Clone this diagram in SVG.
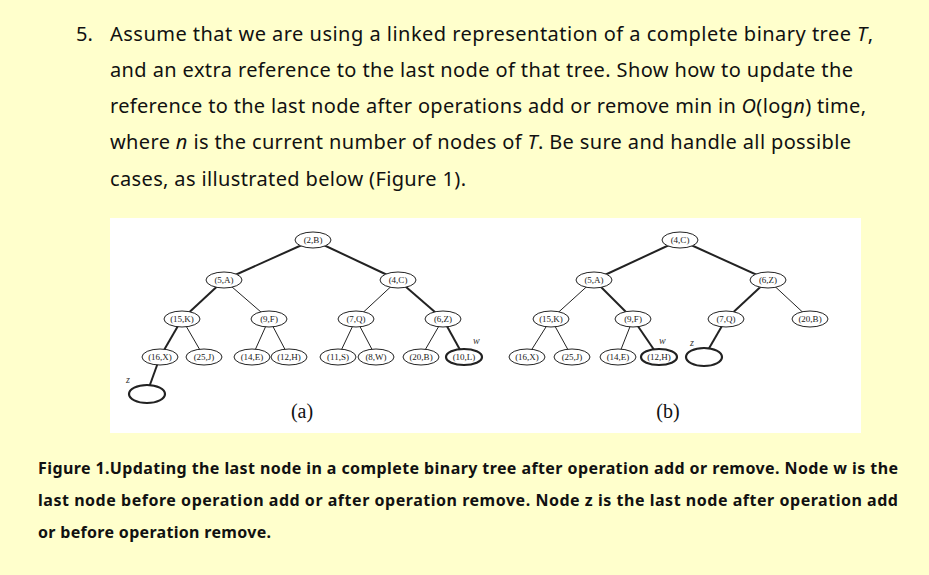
<svg xmlns="http://www.w3.org/2000/svg" width="929" height="575" viewBox="0 0 929 575">
<style>
.t{font-family:"Noto Sans","Noto Sans CJK KR",sans-serif;font-size:20px;fill:#111}
.c{font-family:"Noto Sans","Noto Sans CJK KR",sans-serif;font-size:16px;font-weight:bold;fill:#111}
.n ellipse{fill:#fff;stroke:#222;stroke-width:1}
.n text{font-family:"Liberation Serif",serif;font-size:9px;text-anchor:middle;fill:#222}
.b ellipse{stroke-width:2.2}
.e line{stroke:#222;stroke-width:1}
.e .k{stroke-width:2}
.l{font-family:"Liberation Serif",serif;font-style:italic;font-size:10px;fill:#333}
.p{font-family:"Liberation Serif",serif;font-size:20px;text-anchor:middle;fill:#111}
</style>
<rect width="929" height="575" fill="#ffffcc"/>
<text class="t" x="76" y="41">5.</text>
<text class="t" x="110" y="41" textLength="763" lengthAdjust="spacing">Assume that we are using a linked representation of a complete binary tree <tspan font-style="italic">T</tspan>,</text>
<text class="t" x="110" y="77" textLength="743" lengthAdjust="spacing">and an extra reference to the last node of that tree. Show how to update the</text>
<text class="t" x="110" y="113" textLength="756" lengthAdjust="spacing">reference to the last node after operations add or remove min in <tspan font-style="italic">O</tspan>(log<tspan font-style="italic">n</tspan>) time,</text>
<text class="t" x="110" y="149" textLength="741" lengthAdjust="spacing">where <tspan font-style="italic">n</tspan> is the current number of nodes of <tspan font-style="italic">T</tspan>. Be sure and handle all possible</text>
<text class="t" x="110" y="186" textLength="356" lengthAdjust="spacing">cases, as illustrated below (Figure 1).</text>
<rect x="110" y="218" width="751" height="215" fill="#fff"/>
<g class="e" id="connectors">
<line class="k" x1="313" y1="240" x2="224" y2="280"/><line class="k" x1="313" y1="240" x2="398" y2="280"/>
<line class="k" x1="224" y1="280" x2="182" y2="319"/><line x1="224" y1="280" x2="269" y2="319"/>
<line x1="398" y1="280" x2="356" y2="319"/><line class="k" x1="398" y1="280" x2="443" y2="319"/>
<line class="k" x1="182" y1="319" x2="160" y2="357"/><line x1="182" y1="319" x2="204" y2="357"/>
<line x1="269" y1="319" x2="252" y2="357"/><line x1="269" y1="319" x2="289" y2="357"/>
<line x1="356" y1="319" x2="338" y2="357"/><line x1="356" y1="319" x2="376" y2="357"/>
<line x1="443" y1="319" x2="421" y2="357"/><line class="k" x1="443" y1="319" x2="464" y2="357"/>
<line class="k" x1="160" y1="357" x2="147" y2="393"/>
<line class="k" x1="680" y1="240" x2="594" y2="280"/><line class="k" x1="680" y1="240" x2="768" y2="280"/>
<line x1="594" y1="280" x2="551" y2="319"/><line class="k" x1="594" y1="280" x2="633" y2="319"/>
<line class="k" x1="768" y1="280" x2="726" y2="319"/><line x1="768" y1="280" x2="810" y2="319"/>
<line x1="551" y1="319" x2="527" y2="357"/><line x1="551" y1="319" x2="572" y2="357"/>
<line x1="633" y1="319" x2="618" y2="357"/><line class="k" x1="633" y1="319" x2="659" y2="357"/>
<line class="k" x1="726" y1="319" x2="704" y2="357"/>
</g>
<g class="n">
<g id="a1"><ellipse cx="313" cy="240" rx="18" ry="8"/><text x="313" y="243">(2,B)</text></g>
<g id="a2"><ellipse cx="224" cy="280" rx="18" ry="8"/><text x="224" y="283">(5,A)</text></g>
<g id="a3"><ellipse cx="398" cy="280" rx="18" ry="8"/><text x="398" y="283">(4,C)</text></g>
<g id="a4"><ellipse cx="182" cy="319" rx="18" ry="8"/><text x="182" y="322">(15,K)</text></g>
<g id="a5"><ellipse cx="269" cy="319" rx="18" ry="8"/><text x="269" y="322">(9,F)</text></g>
<g id="a6"><ellipse cx="356" cy="319" rx="18" ry="8"/><text x="356" y="322">(7,Q)</text></g>
<g id="a7"><ellipse cx="443" cy="319" rx="18" ry="8"/><text x="443" y="322">(6,Z)</text></g>
<g id="a8"><ellipse cx="160" cy="357" rx="18" ry="8"/><text x="160" y="360">(16,X)</text></g>
<g id="a9"><ellipse cx="204" cy="357" rx="18" ry="8"/><text x="204" y="360">(25,J)</text></g>
<g id="a10"><ellipse cx="252" cy="357" rx="18" ry="8"/><text x="252" y="360">(14,E)</text></g>
<g id="a11"><ellipse cx="289" cy="357" rx="18" ry="8"/><text x="289" y="360">(12,H)</text></g>
<g id="a12"><ellipse cx="338" cy="357" rx="18" ry="8"/><text x="338" y="360">(11,S)</text></g>
<g id="a13"><ellipse cx="376" cy="357" rx="18" ry="8"/><text x="376" y="360">(8,W)</text></g>
<g id="a14"><ellipse cx="421" cy="357" rx="18" ry="8"/><text x="421" y="360">(20,B)</text></g>
<g id="a15" class="b"><ellipse cx="464" cy="357" rx="18" ry="8"/><text x="464" y="360">(10,L)</text></g>
<g id="a16" class="b"><ellipse cx="147" cy="394" rx="18" ry="9"/></g>
<g id="b1"><ellipse cx="680" cy="240" rx="18" ry="8"/><text x="680" y="243">(4,C)</text></g>
<g id="b2"><ellipse cx="594" cy="280" rx="18" ry="8"/><text x="594" y="283">(5,A)</text></g>
<g id="b3"><ellipse cx="768" cy="280" rx="18" ry="8"/><text x="768" y="283">(6,Z)</text></g>
<g id="b4"><ellipse cx="551" cy="319" rx="18" ry="8"/><text x="551" y="322">(15,K)</text></g>
<g id="b5"><ellipse cx="633" cy="319" rx="18" ry="8"/><text x="633" y="322">(9,F)</text></g>
<g id="b6"><ellipse cx="726" cy="319" rx="18" ry="8"/><text x="726" y="322">(7,Q)</text></g>
<g id="b7"><ellipse cx="810" cy="319" rx="18" ry="8"/><text x="810" y="322">(20,B)</text></g>
<g id="b8"><ellipse cx="527" cy="357" rx="18" ry="8"/><text x="527" y="360">(16,X)</text></g>
<g id="b9"><ellipse cx="572" cy="357" rx="18" ry="8"/><text x="572" y="360">(25,J)</text></g>
<g id="b10"><ellipse cx="618" cy="357" rx="18" ry="8"/><text x="618" y="360">(14,E)</text></g>
<g id="b11" class="b"><ellipse cx="659" cy="357" rx="18" ry="8"/><text x="659" y="360">(12,H)</text></g>
<g id="b12" class="b"><ellipse cx="704" cy="357" rx="18" ry="9"/></g>
</g>
<text class="l" x="126" y="383">z</text>
<text class="l" x="473" y="344">w</text>
<text class="l" x="659" y="344">w</text>
<text class="l" x="690" y="346">z</text>
<text class="p" x="302" y="418">(a)</text>
<text class="p" x="668" y="418">(b)</text>
<text class="c" x="38" y="474" textLength="860" lengthAdjust="spacing">Figure 1.Updating the last node in a complete binary tree after operation add or remove. Node w is the</text>
<text class="c" x="38" y="506" textLength="860" lengthAdjust="spacing">last node before operation add or after operation remove. Node z is the last node after operation add</text>
<text class="c" x="38" y="538" textLength="233" lengthAdjust="spacing">or before operation remove.</text>
</svg>
